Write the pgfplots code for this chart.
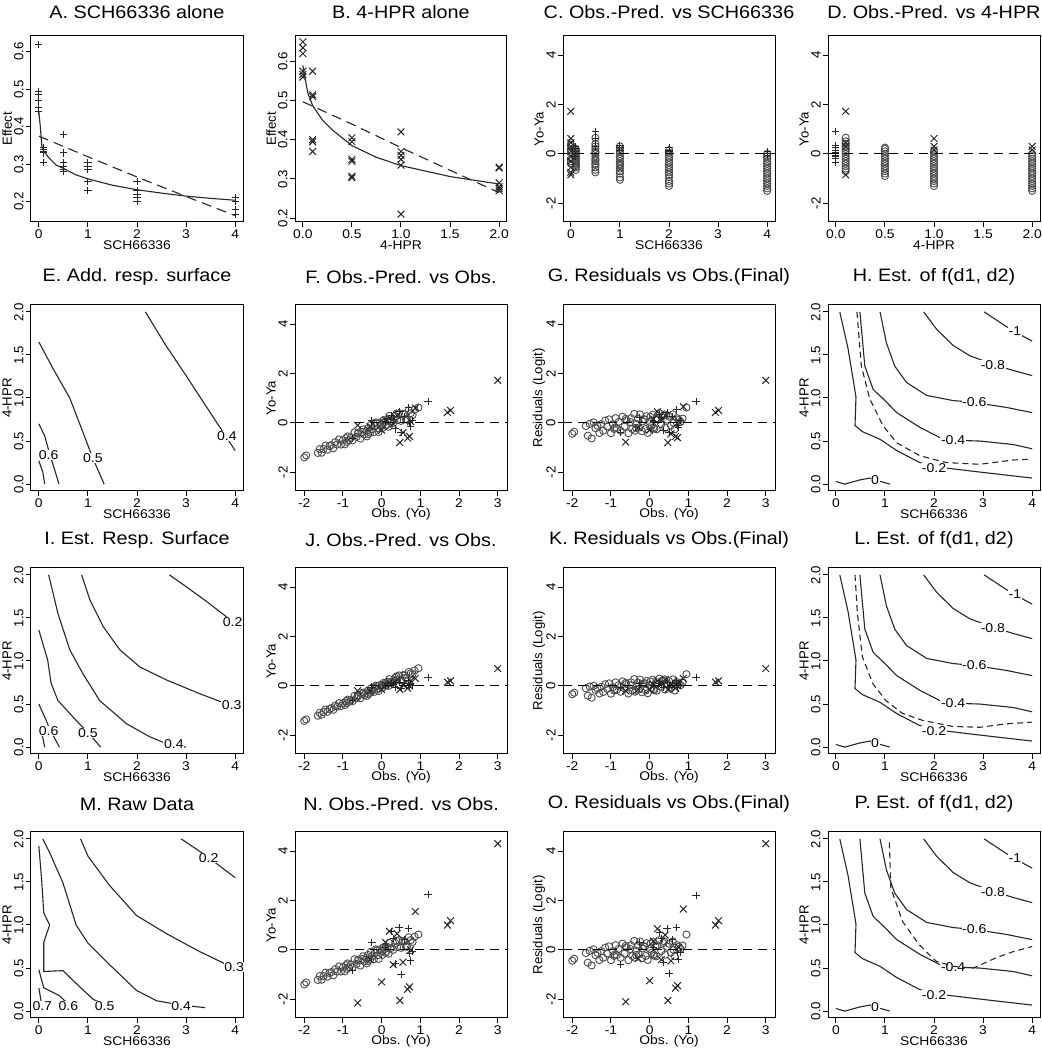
\documentclass[border=0pt]{standalone}
\usepackage{fontspec}
\setmainfont[FakeStretch=1.1]{Liberation Sans}
\newfontfamily\rotfont{Liberation Sans}
\usepackage{pgfplots}
\pgfplotsset{compat=1.18}
\usepackage{pgfplotstable}

\newcommand\tickf{\fontsize{6.3}{7}\selectfont}
\newcommand\ytickf{\rotfont\fontsize{6.6}{7.5}\selectfont}
\newcommand\labf{\fontsize{6.3}{7}\selectfont}
\newcommand\ylabf{\rotfont\fontsize{6.6}{7.5}\selectfont}
\newcommand\titf{\fontsize{9}{10}\selectfont}
\newcommand\conf{\fontsize{6.4}{7}\selectfont}

\pgfplotsset{
 every axis title shift=0pt,
 panel/.style={scale only axis, width=106pt, height=93pt, anchor=north west,
   axis line style={line width=0.5pt},
   tick align=outside, tick pos=left, major tick length=2.5pt,
   every tick/.style={black, line width=0.5pt},
   xticklabel style={font=\tickf, inner sep=1pt},
   yticklabel style={font=\ytickf, rotate=90, anchor=south, inner sep=1pt},
   xlabel style={font=\labf, at={(axis description cs:0.5,-0.127)}, anchor=center},
   ylabel style={font=\ylabf, at={(axis description cs:-0.113,0.5)}, anchor=center},
   title style={font=\titf, at={(axis description cs:0.5,1.15)}, anchor=center},
   clip mode=individual,
 },
 toprow/.style={title style={at={(axis description cs:0.5,1.13)}}},
 pl/.style={only marks, mark=+, mark size=1.8pt, mark options={line width=0.5pt, black!85}},
 cr/.style={only marks, mark=x, mark size=2.4pt, mark options={line width=0.5pt, black!85}},
 ci/.style={only marks, mark=o, mark size=1.8pt, mark options={line width=0.45pt, black!70}},
 cl/.style={black!85, line width=0.55pt, mark=none},
 cd/.style={black!85, line width=0.55pt, mark=none, dash pattern=on 3pt off 2pt},
 zl/.style={black, line width=0.55pt, mark=none, dash pattern=on 4.5pt off 3pt},
 sch/.style={xmin=-0.16, xmax=4.16, xtick={0,1,2,3,4}, xticklabels={0,1,2,3,4}},
 hpr/.style={xmin=-0.08, xmax=2.08, xtick={0,0.5,1,1.5,2}, xticklabels={0.0,0.5,1.0,1.5,2.0}},
 yhpr/.style={ymin=-0.08, ymax=2.08, ytick={0,0.5,1,1.5,2}, yticklabels={0.0,0.5,1.0,1.5,2.0}, ylabel={4-HPR}, xlabel={SCH66336}},
 yres/.style={ymin=-2.76, ymax=4.77, ytick={-2,0,2,4}, yticklabels={-2,0,2,4}},
 xobs/.style={xmin=-2.24, xmax=3.24, xtick={-2,-1,0,1,2,3}, xticklabels={-2,-1,0,1,2,3}, xlabel={Obs. (Yo)}},
}

\newcommand\clab[3]{\node[font=\conf, fill=white, inner sep=0.3pt] at (axis cs:#1,#2) {#3};}
\newcommand\zeroline{\addplot[zl] coordinates {(-10,0) (10,0)};}

% circles (combination data): Obs, YoYa(F,N), Resid(G,O), YoYa(J), Resid(K)
\pgfplotstableread{
x YF YG YJ YK
-2.00 -1.40 -0.44 -1.42 -0.34
-1.95 -1.32 -0.36 -1.36 -0.28
-1.65 -1.22 -0.13 -1.21 -0.10
-1.60 -1.06 -0.52 -1.09 -0.40
-1.55 -1.21 -0.04 -1.17 -0.03
-1.50 -1.06 -0.63 -1.06 -0.48
-1.45 -0.92 0.02 -0.96 0.00
-1.40 -1.09 -0.22 -1.05 -0.17
-1.30 -0.90 -0.41 -0.90 -0.31
-1.25 -1.03 -0.05 -0.97 -0.04
-1.20 -0.78 -0.32 -0.80 -0.25
-1.15 -0.88 0.09 -0.84 0.06
-1.10 -0.67 -0.15 -0.70 -0.12
-1.05 -0.88 0.14 -0.82 0.10
-1.00 -0.71 -0.42 -0.70 -0.32
-0.95 -0.87 -0.06 -0.78 -0.05
-0.92 -0.62 -0.25 -0.62 -0.19
-0.88 -0.55 0.19 -0.56 0.14
-0.85 -0.71 -0.21 -0.65 -0.16
-0.80 -0.60 0.04 -0.57 0.03
-0.75 -0.71 -0.32 -0.62 -0.24
-0.70 -0.38 0.25 -0.40 0.18
-0.65 -0.57 -0.15 -0.51 -0.11
-0.60 -0.39 0.10 -0.38 0.07
-0.55 -0.64 -0.42 -0.51 -0.31
-0.50 -0.37 0.03 -0.33 0.02
-0.48 -0.26 0.19 -0.27 0.14
-0.45 -0.47 -0.25 -0.38 -0.19
-0.40 -0.33 0.36 -0.28 0.27
-0.38 -0.55 -0.32 -0.41 -0.24
-0.35 -0.21 -0.04 -0.19 -0.03
-0.30 -0.40 0.17 -0.29 0.13
-0.28 -0.08 -0.19 -0.10 -0.14
-0.25 -0.26 0.34 -0.20 0.25
-0.20 -0.38 -0.34 -0.25 -0.26
-0.18 -0.12 0.06 -0.09 0.05
-0.15 0.02 0.15 0.01 0.11
-0.10 -0.22 -0.25 -0.12 -0.19
-0.08 -0.37 0.27 -0.21 0.20
-0.05 0.01 -0.41 0.03 -0.30
0.00 -0.05 0.04 0.01 0.03
0.02 -0.21 0.24 -0.08 0.18
0.05 0.11 -0.12 0.12 -0.09
0.08 0.03 0.33 0.08 0.25
0.10 -0.12 -0.19 0.00 -0.14
0.15 0.12 0.14 0.16 0.10
0.18 -0.16 -0.26 0.00 -0.20
0.20 0.28 0.18 0.27 0.14
0.25 0.08 0.39 0.17 0.29
0.30 0.00 -0.05 0.13 -0.04
0.35 0.28 0.28 0.32 0.21
0.40 0.11 -0.20 0.23 -0.15
0.45 0.39 0.13 0.42 0.10
0.50 0.08 0.25 0.24 0.19
0.55 0.36 -0.11 0.43 -0.08
0.60 0.34 0.34 0.43 0.26
0.65 0.12 -0.26 0.32 -0.19
0.70 0.51 0.19 0.56 0.15
0.75 0.39 0.12 0.51 0.09
0.80 0.32 0.04 0.48 0.03
0.85 0.53 0.17 0.62 0.13
0.95 0.62 0.62 0.71 0.47
-0.90 -0.77 -0.19 -0.70 -0.14
-0.62 -0.44 0.16 -0.42 0.12
-0.35 -0.45 -0.21 -0.34 -0.16
-0.12 -0.02 0.13 -0.01 0.10
0.12 -0.08 -0.24 0.03 -0.18
0.38 0.37 0.34 0.38 0.26
0.62 0.16 0.00 0.33 0.00
-1.35 -0.94 -0.12 -0.94 -0.10
}\tabCirc

% 4-HPR alone (x marks)
\pgfplotstableread{
x F G J K N O
3.00 1.72 1.72 0.70 0.70 4.30 4.30
1.70 0.42 0.42 0.15 0.15 1.00 1.00
1.78 0.50 0.50 0.20 0.20 1.18 1.18
0.87 0.60 0.65 0.30 0.30 1.55 1.65
-0.62 -0.10 -0.78 -0.20 -0.20 -2.15 -2.10
0.47 -0.80 -0.80 -0.15 -0.15 -2.05 -2.05
0.67 -0.62 -0.55 -0.10 -0.10 -1.60 -1.55
0.72 -0.55 -0.60 0.00 0.00 -1.50 -1.45
0.00 -0.30 -0.30 -0.15 -0.15 -1.30 -1.25
0.30 -0.05 0.10 0.10 0.10 -0.60 -0.40
0.75 0.05 0.05 0.20 0.15 0.00 0.10
0.20 0.20 0.45 0.15 0.20 0.75 0.85
0.40 0.30 0.30 0.25 0.25 0.65 0.60
0.10 0.10 0.15 0.05 0.05 0.30 0.35
0.55 -0.40 -0.45 0.05 0.05 -0.50 -0.45
-0.30 -0.15 -0.20 -0.20 -0.15 -0.40 -0.35
}\tabX

% SCH66336 alone (+ marks)
\pgfplotstableread{
x F G J K N O
1.20 0.85 0.85 0.35 0.35 2.25 2.20
0.45 0.45 0.40 0.15 0.15 0.90 0.85
0.70 0.60 0.55 0.20 0.20 0.85 0.90
0.25 0.30 0.35 0.10 0.10 0.75 0.70
0.30 0.15 0.20 0.05 0.05 0.45 0.45
0.50 -0.40 -0.40 -0.10 -0.05 -1.00 -0.95
0.75 -0.15 -0.20 0.05 0.05 -0.45 -0.40
0.72 0.00 -0.10 0.00 0.00 -0.15 -0.10
-0.75 -0.65 -0.40 -0.60 -0.05 -0.85 -0.60
-0.25 0.10 0.20 -0.05 0.10 0.30 0.30
0.10 0.05 0.05 0.00 0.00 0.10 0.10
0.60 0.25 0.25 0.10 0.10 0.40 0.40
0.80 0.10 0.10 0.00 0.00 -0.05 -0.10
0.35 -0.25 -0.30 -0.05 -0.05 -0.55 -0.50
}\tabP

\newcommand\fcontours{%
 \addplot[cl] coordinates {(3.02,2.0)(3.34,1.88)(3.61,1.78)(4.0,1.66)};
 \addplot[cl] coordinates {(1.79,2.0)(2.05,1.80)(2.39,1.61)(2.73,1.49)(3.21,1.39)(3.61,1.32)(4.0,1.26)};
 \addplot[cl] coordinates {(0.9,2.0)(1.03,1.64)(1.2,1.37)(1.44,1.18)(1.85,1.03)(2.39,0.97)(2.8,0.95)(3.48,0.89)(4.0,0.83)};
 \addplot[cl] coordinates {(0.49,2.0)(0.59,1.37)(0.76,1.1)(1.0,0.97)(1.24,0.83)(1.71,0.66)(2.12,0.54)(2.39,0.51)(2.93,0.5)(3.61,0.46)(4.0,0.41)};
 \addplot[cl] coordinates {(0.08,2.0)(0.25,1.57)(0.41,1.01)(0.39,0.68)(0.54,0.61)(0.9,0.52)(1.24,0.39)(1.71,0.25)(2.05,0.2)(2.93,0.14)(4.0,0.07)};
 \addplot[cl] coordinates {(0,0.03)(0.18,0.0)(0.5,0.05)(0.7,0.07)(0.85,0.04)(1.1,0.0)};
 \clab{3.65}{1.78}{-1}
 \clab{3.2}{1.38}{-0.8}
 \clab{2.82}{0.95}{-0.6}
 \clab{2.39}{0.51}{-0.4}
 \clab{2.0}{0.19}{-0.2}
 \clab{0.8}{0.05}{0}
}

\begin{document}
\begin{tikzpicture}
\useasboundingbox (0,0) rectangle (521pt,525pt);

% ---------------- Row 1 ----------------
\begin{axis}[panel, toprow, at={(15.5pt,507pt)}, sch, ymin=0.146, ymax=0.642,
  ytick={0.2,0.3,0.4,0.5,0.6}, yticklabels={0.2,0.3,0.4,0.5,0.6},
  title={A. SCH66336 alone}, xlabel={SCH66336}, ylabel={Effect}]
\addplot[pl] coordinates {(0,0.62)(0,0.495)(0,0.485)(0,0.47)(0,0.45)(0,0.44)(0.1,0.345)(0.1,0.34)(0.1,0.335)(0.1,0.33)(0.1,0.305)(0.5,0.38)(0.5,0.33)(0.5,0.305)(0.5,0.295)(0.5,0.285)(0.5,0.28)(1,0.305)(1,0.295)(1,0.285)(1,0.255)(1,0.23)(2,0.255)(2,0.23)(2,0.22)(2,0.21)(2,0.2)(4,0.21)(4,0.2)(4,0.18)(4,0.165)};
\addplot[cl] coordinates {(0,0.44)(0.03,0.40)(0.06,0.35)(0.1,0.335)(0.2,0.318)(0.35,0.298)(0.5,0.289)(0.75,0.272)(1,0.261)(1.5,0.244)(2,0.232)(2.5,0.223)(3,0.215)(3.5,0.209)(4,0.204)};
\addplot[cl, dash pattern=on 5pt off 3pt] coordinates {(0,0.375)(1,0.32)(2,0.266)(3,0.214)(4,0.163)};
\end{axis}

\begin{axis}[panel, toprow, at={(147.5pt,507pt)}, hpr, ymin=0.19, ymax=0.665,
  ytick={0.2,0.3,0.4,0.5,0.6}, yticklabels={0.2,0.3,0.4,0.5,0.6},
  title={B. 4-HPR alone}, xlabel={4-HPR}, ylabel={Effect}]
\addplot[cr] coordinates {(0,0.65)(0,0.635)(0,0.62)(0,0.575)(0,0.567)(0,0.56)(0.1,0.575)(0.1,0.515)(0.1,0.51)(0.1,0.4)(0.1,0.395)(0.1,0.37)(0.5,0.405)(0.5,0.395)(0.5,0.35)(0.5,0.345)(0.5,0.307)(0.5,0.303)(1,0.42)(1,0.37)(1,0.36)(1,0.35)(1,0.335)(1,0.21)(2,0.33)(2,0.328)(2,0.29)(2,0.28)(2,0.275)(2,0.27)};
\addplot[cl] coordinates {(0,0.59)(0.02,0.56)(0.05,0.52)(0.1,0.487)(0.2,0.45)(0.3,0.425)(0.5,0.385)(0.75,0.355)(1,0.334)(1.5,0.306)(2,0.287)};
\addplot[cl, dash pattern=on 5pt off 3pt] coordinates {(0,0.497)(0.5,0.44)(1,0.38)(1.5,0.322)(2,0.265)};
\end{axis}

\begin{axis}[panel, toprow, at={(281.5pt,507pt)}, sch, yres,
  title={C. Obs.-Pred. vs SCH66336}, xlabel={SCH66336}, ylabel={Yo-Ya}]
\addplot[ci] coordinates {(0,-0.4)(0,-0.3)(0,-0.2)(0,0.15)(0,0.35)
(0.1,-0.65)(0.1,-0.55)(0.1,-0.5)(0.1,-0.45)(0.1,-0.4)(0.1,-0.35)(0.1,-0.3)(0.1,-0.25)(0.1,-0.2)(0.1,-0.15)(0.1,-0.1)(0.1,-0.05)(0.1,0)(0.1,0.05)(0.1,0.1)(0.1,0.15)(0.1,0.2)
(0.5,-0.75)(0.5,-0.65)(0.5,-0.55)(0.5,-0.45)(0.5,-0.4)(0.5,-0.3)(0.5,-0.25)(0.5,-0.2)(0.5,-0.1)(0.5,0)(0.5,0.05)(0.5,0.1)(0.5,0.2)(0.5,0.3)(0.5,0.4)(0.5,0.65)
(1,-1.05)(1,-0.95)(1,-0.8)(1,-0.7)(1,-0.6)(1,-0.5)(1,-0.45)(1,-0.4)(1,-0.3)(1,-0.2)(1,-0.1)(1,0)(1,0.1)(1,0.2)(1,0.3)
(2,-1.3)(2,-1.2)(2,-1.1)(2,-0.95)(2,-0.85)(2,-0.75)(2,-0.65)(2,-0.55)(2,-0.45)(2,-0.35)(2,-0.25)(2,-0.15)(2,-0.05)(2,0.05)(2,0.15)
(4,-1.5)(4,-1.4)(4,-1.3)(4,-1.2)(4,-1.1)(4,-1.0)(4,-0.9)(4,-0.8)(4,-0.7)(4,-0.6)(4,-0.5)(4,-0.4)(4,-0.3)(4,-0.2)(4,-0.1)(4,0.0)};
\addplot[pl] coordinates {(0.1,0.3)(0.1,0.2)(0.1,0.1)(0.1,0.0)(0.1,-0.1)(0.5,0.9)(0.5,0.6)(0.5,0.3)(1,0.35)(1,0.25)(1,0.15)(2,0.25)(2,0.15)(2,0.1)(4,0.1)(4,0.0)(4,-0.05)};
\addplot[cr] coordinates {(0,1.72)(0,0.62)(0,0.45)(0,0.3)(0,0.2)(0,0.1)(0,-0.1)(0,-0.3)(0,-0.55)(0,-0.85)(0,-0.75)};
\zeroline
\end{axis}

\begin{axis}[panel, toprow, at={(414pt,507pt)}, hpr, yres,
  title={D. Obs.-Pred. vs 4-HPR}, xlabel={4-HPR}, ylabel={Yo-Ya}]
\addplot[ci] coordinates {(0.1,-0.7)(0.1,-0.6)(0.1,-0.5)(0.1,-0.4)(0.1,-0.3)(0.1,-0.2)(0.1,-0.1)(0.1,0)(0.1,0.1)(0.1,0.2)(0.1,0.3)(0.1,0.4)(0.1,0.5)(0.1,0.65)
(0.5,-0.9)(0.5,-0.8)(0.5,-0.7)(0.5,-0.6)(0.5,-0.5)(0.5,-0.4)(0.5,-0.3)(0.5,-0.2)(0.5,-0.1)(0.5,0)(0.5,0.1)(0.5,0.2)(0.5,0.25)
(1,-1.3)(1,-1.2)(1,-1.1)(1,-1.0)(1,-0.9)(1,-0.8)(1,-0.7)(1,-0.6)(1,-0.5)(1,-0.4)(1,-0.3)(1,-0.2)(1,-0.1)(1,0)(1,0.1)
(2,-1.5)(2,-1.4)(2,-1.3)(2,-1.2)(2,-1.1)(2,-1.0)(2,-0.9)(2,-0.8)(2,-0.7)(2,-0.6)(2,-0.5)(2,-0.4)(2,-0.3)(2,-0.2)(2,-0.1)(2,0.0)};
\addplot[pl] coordinates {(0,0.9)(0,0.35)(0,0.25)(0,0.15)(0,0.05)(0,0.0)(0,-0.05)(0,-0.1)(0,-0.2)(0,-0.35)};
\addplot[cr] coordinates {(0.1,1.72)(0.1,-0.85)(0.1,0.45)(0.1,0.3)(1,0.62)(1,0.3)(1,0.15)(2,0.3)(2,0.15)};
\zeroline
\end{axis}

% ---------------- Row 2 ----------------
\begin{axis}[panel, at={(15.5pt,372.5pt)}, sch, yhpr, title={E. Add. resp. surface}]
\addplot[cl] coordinates {(2.17,2.0)(2.6,1.6)(3.0,1.26)(3.4,0.91)(3.7,0.65)(4.0,0.39)};
\addplot[cl] coordinates {(0,1.65)(0.3,1.33)(0.63,1.0)(0.9,0.6)(1.1,0.3)(1.33,0.0)};
\addplot[cl] coordinates {(0,0.7)(0.12,0.56)(0.22,0.35)(0.32,0.17)(0.41,0.0)};
\addplot[cl] coordinates {(0,0.27)(0.08,0.14)(0.12,0.0)};
\clab{0.2}{0.34}{0.6}
\clab{1.1}{0.3}{0.5}
\clab{3.83}{0.56}{0.4}
\end{axis}

\begin{axis}[panel, at={(147.5pt,372.5pt)}, xobs, yres, title={F. Obs.-Pred. vs Obs.}, ylabel={Yo-Ya}]
\addplot[ci] table[x=x, y=YF] {\tabCirc};
\addplot[pl] table[x=x, y=F] {\tabP};
\addplot[cr] table[x=x, y=F] {\tabX};
\zeroline
\end{axis}

\begin{axis}[panel, at={(281.5pt,372.5pt)}, xobs, yres, title={G. Residuals vs Obs.(Final)}, ylabel={Residuals (Logit)}]
\addplot[ci] table[x=x, y=YG] {\tabCirc};
\addplot[pl] table[x=x, y=G] {\tabP};
\addplot[cr] table[x=x, y=G] {\tabX};
\zeroline
\end{axis}

\begin{axis}[panel, at={(414pt,372.5pt)}, sch, yhpr, title={H. Est. of f(d1, d2)}]
\fcontours
\addplot[cd] coordinates {(0.43,2.0)(0.52,1.37)(0.69,0.99)(0.96,0.68)(1.24,0.48)(1.71,0.33)(2.25,0.25)(2.93,0.23)(3.61,0.28)(4.0,0.29)};
\end{axis}

% ---------------- Row 3 ----------------
\begin{axis}[panel, at={(15.5pt,241pt)}, sch, yhpr, title={I. Est. Resp. Surface}]
\addplot[cl] coordinates {(2.66,2.0)(3.01,1.86)(3.42,1.69)(3.83,1.51)(4.0,1.44)};
\addplot[cl] coordinates {(0.87,2.0)(1.04,1.71)(1.31,1.4)(1.65,1.13)(2.06,0.93)(2.6,0.78)(3.28,0.62)(3.83,0.5)(4.0,0.47)};
\addplot[cl] coordinates {(0.2,2.0)(0.39,1.55)(0.63,1.13)(0.9,0.85)(1.24,0.54)(1.79,0.27)(2.26,0.12)(2.6,0.04)(2.8,0.02)(3.0,0.0)};
\addplot[cl] coordinates {(0,1.36)(0.18,1.01)(0.25,0.74)(0.39,0.54)(0.76,0.31)(1.0,0.17)(1.26,0.0)};
\addplot[cl] coordinates {(0,0.5)(0.15,0.31)(0.22,0.21)(0.42,0.0)};
\addplot[cl] coordinates {(0.05,0.19)(0.12,0.0)};
\clab{3.95}{1.45}{0.2}
\clab{3.93}{0.49}{0.3}
\clab{2.75}{0.03}{0.4}
\clab{1.0}{0.16}{0.5}
\clab{0.2}{0.19}{0.6}
\end{axis}

\begin{axis}[panel, at={(147.5pt,241pt)}, xobs, yres, title={J. Obs.-Pred. vs Obs.}, ylabel={Yo-Ya}]
\addplot[ci] table[x=x, y=YJ] {\tabCirc};
\addplot[pl] table[x=x, y=J] {\tabP};
\addplot[cr] table[x=x, y=J] {\tabX};
\zeroline
\end{axis}

\begin{axis}[panel, at={(281.5pt,241pt)}, xobs, yres, title={K. Residuals vs Obs.(Final)}, ylabel={Residuals (Logit)}]
\addplot[ci] table[x=x, y=YK] {\tabCirc};
\addplot[pl] table[x=x, y=K] {\tabP};
\addplot[cr] table[x=x, y=K] {\tabX};
\zeroline
\end{axis}

\begin{axis}[panel, at={(414pt,241pt)}, sch, yhpr, title={L. Est. of f(d1, d2)}]
\fcontours
\addplot[cd] coordinates {(0.39,2.0)(0.44,1.55)(0.54,1.05)(0.75,0.74)(1.02,0.54)(1.36,0.39)(1.77,0.31)(2.38,0.24)(2.93,0.23)(3.47,0.27)(4.0,0.29)};
\end{axis}

% ---------------- Row 4 ----------------
\begin{axis}[panel, at={(15.5pt,109pt)}, sch, yhpr, title={M. Raw Data}]
\addplot[cl] coordinates {(2.9,2.0)(3.42,1.8)(4.0,1.55)};
\addplot[cl] coordinates {(0.85,2.0)(1.0,1.8)(1.44,1.46)(1.99,1.11)(2.6,0.9)(3.28,0.69)(3.83,0.54)(4.0,0.5)};
\addplot[cl] coordinates {(0.08,2.0)(0.22,1.84)(0.49,1.49)(0.76,1.0)(1.0,0.79)(1.44,0.54)(1.99,0.24)(2.4,0.12)(2.9,0.07)(3.39,0.04)};
\addplot[cl] coordinates {(0.0,1.92)(0.06,1.5)(0.1,1.14)(0.22,1.0)(0.1,0.8)(0.1,0.46)(0.49,0.47)(0.8,0.3)(1.1,0.14)(1.34,0.07)};
\addplot[cl] coordinates {(0.0,0.48)(0.1,0.27)(0.42,0.18)(0.6,0.08)};
\addplot[cl] coordinates {(0.0,0.27)(0.05,0.1)};
\clab{3.46}{1.78}{0.2}
\clab{3.98}{0.51}{0.3}
\clab{2.9}{0.06}{0.4}
\clab{1.34}{0.06}{0.5}
\clab{0.6}{0.06}{0.6}
\clab{0.07}{0.06}{0.7}
\end{axis}

\begin{axis}[panel, at={(147.5pt,109pt)}, xobs, yres, title={N. Obs.-Pred. vs Obs.}, ylabel={Yo-Ya}]
\addplot[ci] table[x=x, y=YF] {\tabCirc};
\addplot[pl] table[x=x, y=N] {\tabP};
\addplot[cr] table[x=x, y=N] {\tabX};
\zeroline
\end{axis}

\begin{axis}[panel, at={(281.5pt,109pt)}, xobs, yres, title={O. Residuals vs Obs.(Final)}, ylabel={Residuals (Logit)}]
\addplot[ci] table[x=x, y=YG] {\tabCirc};
\addplot[pl] table[x=x, y=O] {\tabP};
\addplot[cr] table[x=x, y=O] {\tabX};
\zeroline
\end{axis}

\begin{axis}[panel, at={(414pt,109pt)}, sch, yhpr, title={P. Est. of f(d1, d2)}]
\fcontours
\addplot[cd] coordinates {(1.09,1.96)(1.12,1.43)(1.36,1.04)(1.70,0.77)(2.04,0.58)(2.39,0.52)(2.8,0.5)(3.27,0.62)(3.61,0.69)(4.0,0.75)};
\end{axis}
\end{tikzpicture}
\end{document}
